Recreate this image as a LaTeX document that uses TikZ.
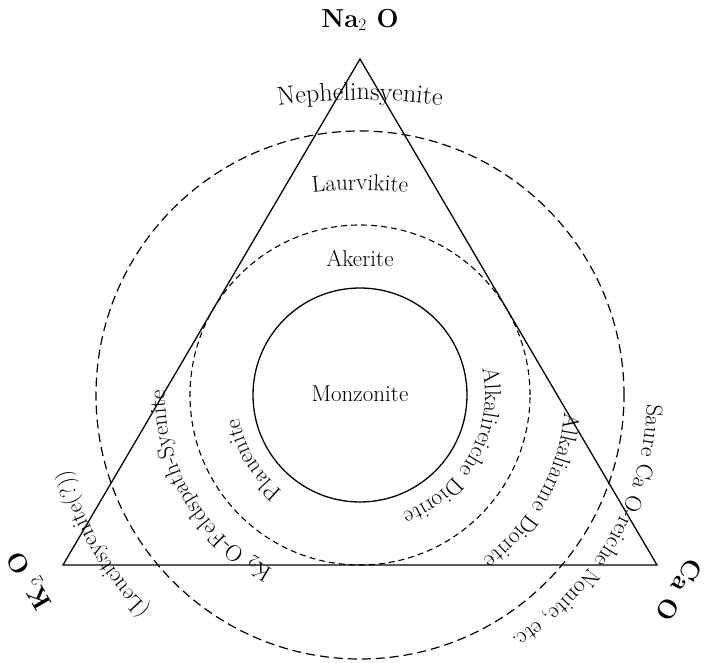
\documentclass[tikz,border=0pt]{standalone}
\usetikzlibrary{decorations.text}
\newcommand\rockfont{\fontsize{23}{27}\selectfont}
\newcommand\cornerfont{\fontsize{26}{30}\selectfont\bfseries}
\tikzset{
rim/.style={line width=1.3pt},
zoneA/.style={line width=1.1pt,dash pattern=on 6pt off 4pt},
zoneB/.style={line width=1.2pt,dash pattern=on 9pt off 5pt},
arclabel/.style={decorate,decoration={text along path,text align=center,text={|\rockfont|#1}}},
bigarclabel/.style={decorate,decoration={text along path,text align=center,text={|\fontsize{26}{30}\selectfont|#1}}},
rocklabel/.style={font=\rockfont,inner sep=0pt,anchor=base},
cornerlabel/.style={font=\cornerfont,inner sep=0pt}
}
\begin{document}
\begin{tikzpicture}[x=1pt,y=1pt]
\useasboundingbox (-360,-268) rectangle (346,395);
\coordinate (m) at (0,0);
\coordinate (na) at (0,336);
\coordinate (k) at (-297,-170);
\coordinate (ca) at (297,-170);

% triangle and zones
\draw[rim] (na) -- (k) -- (ca) -- cycle;
\draw[rim] (m) circle[radius=107];
\draw[zoneA] (m) circle[radius=170];
\draw[zoneB] (m) circle[radius=264];

% corners
\node[cornerlabel] (naLab) at (0,375) {Na$_2$ O};
\node[cornerlabel,rotate=120] (kLab) at (-330,-185) {K$_2$ O};
\node[cornerlabel,rotate=-120] (caLab) at (319,-195) {Ca O};

% top
\path[bigarclabel={Nephelinsyenite}] (0,-305) ++(106:600) arc[start angle=106,end angle=74,radius=600];
\path[arclabel={Laurvikite}] (0,-195) ++(102:400) arc[start angle=102,end angle=78,radius=400];
\node[rocklabel] (akerite) at (0,128) {Akerite};
\node[rocklabel] (monzonite) at (0,-7) {Monzonite};

% left
\path[arclabel={Plauenite}] (m) ++(245:123) arc[start angle=245,end angle=177,radius=123];
\path[arclabel={{K$_2$} O-Feldspath-Syenite}] (m) ++(260:195) arc[start angle=260,end angle=162,radius=195];
\path[arclabel={(Leucitsyenite(?))}] (m) ++(245:300) arc[start angle=245,end angle=175,radius=300];

% right
\path[arclabel={Alkalireiche Diorite}] (m) ++(25:125) arc[start angle=25,end angle=-83,radius=125];
\path[arclabel={Alkaliarme Diorite}] (m) ++(15:205) arc[start angle=15,end angle=-73,radius=205];
\path[arclabel={Saure Ca O-reiche Nonite, etc.}] (m) ++(12:287) arc[start angle=12,end angle=-72,radius=287];
\end{tikzpicture}
\end{document}
